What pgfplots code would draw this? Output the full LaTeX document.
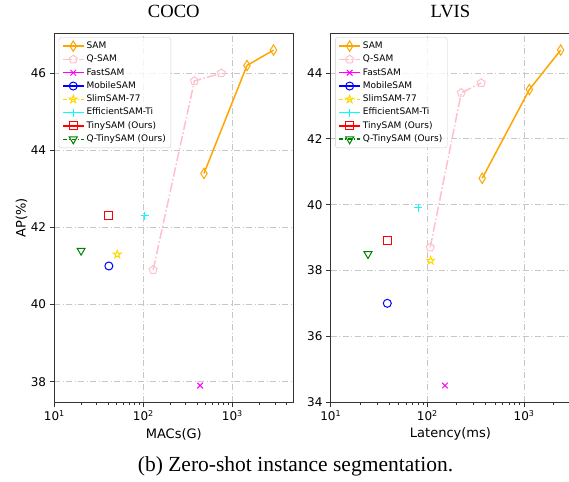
\documentclass[border=0pt]{standalone}
\usepackage{fontspec}
\setmainfont{Liberation Serif}
\newfontfamily\dvs{DejaVu Sans}
\usepackage{pgfplots}
\pgfplotsset{compat=1.18}

\definecolor{cSam}{HTML}{FFA500}
\definecolor{cQsam}{HTML}{FFC0CB}
\definecolor{cFast}{HTML}{FF00FF}
\definecolor{cMobile}{HTML}{0000FF}
\definecolor{cSlim}{HTML}{FFD700}
\definecolor{cEff}{HTML}{00FFFF}
\definecolor{cTiny}{HTML}{FF0000}
\definecolor{cQtiny}{HTML}{008000}

% thin diamond and hollow star, like matplotlib 'd' and '*'
\pgfdeclareplotmark{tdiamond}{%
  \pgfpathmoveto{\pgfqpoint{0pt}{1.3\pgfplotmarksize}}%
  \pgfpathlineto{\pgfqpoint{0.8\pgfplotmarksize}{0pt}}%
  \pgfpathlineto{\pgfqpoint{0pt}{-1.3\pgfplotmarksize}}%
  \pgfpathlineto{\pgfqpoint{-0.8\pgfplotmarksize}{0pt}}%
  \pgfpathclose\pgfusepathqstroke}
\pgfdeclareplotmark{ostar}{%
  \pgfpathmoveto{\pgfpointpolar{90}{\pgfplotmarksize}}%
  \pgfpathlineto{\pgfpointpolar{126}{0.4\pgfplotmarksize}}%
  \pgfpathlineto{\pgfpointpolar{162}{\pgfplotmarksize}}%
  \pgfpathlineto{\pgfpointpolar{198}{0.4\pgfplotmarksize}}%
  \pgfpathlineto{\pgfpointpolar{234}{\pgfplotmarksize}}%
  \pgfpathlineto{\pgfpointpolar{270}{0.4\pgfplotmarksize}}%
  \pgfpathlineto{\pgfpointpolar{306}{\pgfplotmarksize}}%
  \pgfpathlineto{\pgfpointpolar{342}{0.4\pgfplotmarksize}}%
  \pgfpathlineto{\pgfpointpolar{18}{\pgfplotmarksize}}%
  \pgfpathlineto{\pgfpointpolar{54}{0.4\pgfplotmarksize}}%
  \pgfpathclose\pgfusepathqstroke}

\pgfplotsset{
  panel/.style={
    scale only axis, height=369pt,
    xmin=10,
    anchor=south west,
    tick align=outside, tick pos=left,
    major tick length=4.7pt, minor tick length=2.7pt,
    axis line style={black!80, line width=0.8pt},
    every major tick/.append style={black!80, line width=0.8pt},
    every minor tick/.append style={black!80, line width=0.6pt},
    grid=major,
    major grid style={black!22, line width=0.8pt, dash pattern=on 6pt off 2.5pt on 1pt off 2.5pt},
    xtick={10,100,1000},
    xticklabels={10\textsuperscript{1},10\textsuperscript{2},10\textsuperscript{3}},
    ticklabel style={font=\dvs\fontsize{12}{14}\selectfont},
    /pgf/number format/assume math mode=true,
    xlabel style={font=\dvs\fontsize{13}{15}\selectfont, at={(axis description cs:0.5,-0.086)}, anchor=center},
    ylabel style={font=\dvs\fontsize{13}{15}\selectfont, at={(axis description cs:-0.137,0.5)}, anchor=center},
    title style={font=\fontsize{18.6}{20}\selectfont, at={(axis description cs:0.5,1)}, anchor=base, yshift=10pt},
    legend cell align=left,
    legend style={at={(axis description cs:0,1)}, anchor=north west, xshift=4.5pt, yshift=-4pt,
      font=\dvs\fontsize{9}{10}\selectfont, draw=black!20, rounded corners=2.5pt,
      fill=white, fill opacity=0.8, text opacity=1, row sep=0pt,
      nodes={inner ysep=2.2pt, inner xsep=2pt, text height=6.8pt, text depth=2.1pt}},
    legend image code/.code={\draw[mark repeat=2,mark phase=2,##1] plot coordinates {(0pt,0pt) (10.5pt,0pt) (21pt,0pt)};},
  },
  sam/.style={color=cSam, line width=1.5pt, mark=tdiamond, mark size=4pt, mark options={solid, line width=1pt}},
  qsam/.style={color=cQsam, line width=1.5pt, dash pattern=on 9.6pt off 2.4pt on 1.5pt off 2.4pt, mark=pentagon, mark size=4.2pt, mark options={solid, line width=1pt}},
  fast/.style={color=cFast, line width=1.5pt, mark=x, mark size=4pt, mark options={solid, line width=1pt}},
  mobile/.style={color=cMobile, line width=1.5pt, mark=o, mark size=4pt, mark options={solid, line width=1pt}},
  slim/.style={color=cSlim, line width=1.5pt, dash pattern=on 4pt off 2pt on 1pt off 2pt, mark=ostar, mark size=4pt, mark options={solid, line width=1pt}},
  eff/.style={color=cEff, line width=1.5pt, mark=+, mark size=4pt, mark options={solid, line width=1pt}},
  tiny/.style={color=cTiny, line width=1.5pt, mark=square, mark size=4pt, mark options={solid, line width=1pt}},
  qtiny/.style={color=cQtiny, line width=1.5pt, dash pattern=on 4pt off 2pt on 1pt off 2pt, mark=triangle, mark size=4.6pt, mark options={solid, rotate=180, line width=1pt}},
}

\begin{document}
\begin{tikzpicture}
\useasboundingbox (0,0) rectangle (569pt,481pt);

% COCO: MACs vs AP
\begin{semilogxaxis}[panel, at={(54.3pt,78.7pt)}, width=239pt,
  xmax=4840, ymin=37.465, ymax=47.035, ytick={38,40,42,44,46},
  minor xtick={20,30,40,50,60,70,80,90,200,300,400,500,600,700,800,900,2000,3000,4000},
  title={COCO}, xlabel={MACs(G)}, ylabel={AP(\%)}]
\addplot[sam] coordinates {(480,43.4) (1460,46.2) (2900,46.6)};
\addplot[qsam] coordinates {(129,40.9) (375,45.8) (751,46.0)};
\addplot[fast] coordinates {(435,37.9)};
\addplot[mobile] coordinates {(41,41.0)};
\addplot[slim] coordinates {(51,41.3)};
\addplot[eff] coordinates {(104,42.3)};
\addplot[tiny] coordinates {(41,42.3)};
\addplot[qtiny] coordinates {(20,41.4)};
\legend{SAM, Q-SAM, FastSAM, MobileSAM, SlimSAM-77, EfficientSAM-Ti, TinySAM (Ours), Q-TinySAM (Ours)}
\end{semilogxaxis}

% LVIS: latency vs AP
\begin{semilogxaxis}[panel, at={(330.7pt,78.7pt)}, width=239.5pt,
  xmax=3000, ymin=33.99, ymax=45.21, ytick={34,36,38,40,42,44},
  minor xtick={20,30,40,50,60,70,80,90,200,300,400,500,600,700,800,900,2000},
  title={LVIS}, xlabel={Latency(ms)}]
\addplot[sam] coordinates {(369,40.8) (1135,43.5) (2390,44.7)};
\addplot[qsam] coordinates {(107,38.7) (224,43.4) (360,43.7)};
\addplot[fast] coordinates {(152,34.5)};
\addplot[mobile] coordinates {(38.5,37.0)};
\addplot[slim] coordinates {(108,38.3)};
\addplot[eff] coordinates {(80,39.9)};
\addplot[tiny] coordinates {(38.5,38.9)};
\addplot[qtiny] coordinates {(24.3,38.5)};
\legend{SAM, Q-SAM, FastSAM, MobileSAM, SlimSAM-77, EfficientSAM-Ti, TinySAM (Ours), Q-TinySAM (Ours)}
\end{semilogxaxis}

\node[font=\fontsize{21.5}{24}\selectfont, anchor=base] at (295.5pt,10pt) {(b) Zero-shot instance segmentation.};
\end{tikzpicture}
\end{document}
